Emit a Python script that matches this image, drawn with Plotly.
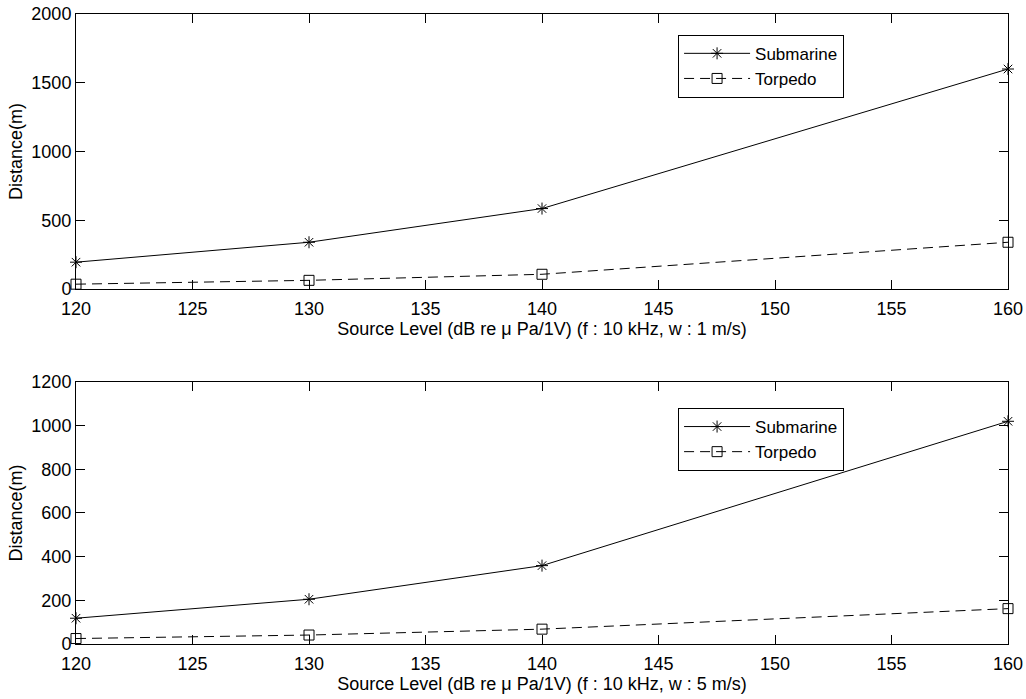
import plotly.graph_objects as go
from plotly.subplots import make_subplots

source_level = [120, 130, 140, 160]
sub_w1 = [195, 340, 585, 1600]
torp_w1 = [35, 63, 107, 340]
sub_w5 = [118, 205, 359, 1020]
torp_w5 = [25, 41, 68, 162]

x_ticks = [120, 125, 130, 135, 140, 145, 150, 155, 160]
y_ticks_top = [0, 500, 1000, 1500, 2000]
y_ticks_bot = [0, 200, 400, 600, 800, 1000, 1200]

xlabel_top = "Source Level (dB re \u03bc Pa/1V) (f : 10 kHz, w : 1 m/s)"
xlabel_bot = "Source Level (dB re \u03bc Pa/1V) (f : 10 kHz, w : 5 m/s)"
ylabel = "Distance(m)"

FONT = "Liberation Sans, Arial, sans-serif"

fig = make_subplots(rows=2, cols=1)

def add_pair(row, sub, torp, legend):
    fig.add_trace(go.Scatter(
        x=source_level, y=sub, name="Submarine", mode="lines+markers",
        line=dict(color="black", width=1),
        marker=dict(symbol="asterisk-open", size=10, color="black",
                    line=dict(color="black", width=1)),
        legend=legend, cliponaxis=False), row=row, col=1)
    fig.add_trace(go.Scatter(
        x=source_level, y=torp, name="Torpedo", mode="lines+markers",
        line=dict(color="black", width=1, dash="10px,6px"),
        marker=dict(symbol="square-open", size=10, color="black",
                    line=dict(color="black", width=1)),
        legend=legend, cliponaxis=False), row=row, col=1)

add_pair(1, sub_w1, torp_w1, "legend")
add_pair(2, sub_w5, torp_w5, "legend2")

axis_common = dict(
    showline=True, linecolor="black", linewidth=1, mirror="ticks",
    ticks="inside", ticklen=9, tickcolor="black", tickwidth=1,
    showgrid=False, zeroline=False, automargin=False,
    tickfont=dict(family=FONT, size=18, color="black"),
)
title_font = dict(family=FONT, size=18, color="black")

fig.update_xaxes(**axis_common, range=[120, 160], tickvals=x_ticks,
                 ticklabelstandoff=3)
fig.update_xaxes(title=dict(text=xlabel_top, standoff=1, font=title_font),
                 domain=[0, 1], row=1, col=1)
fig.update_xaxes(title=dict(text=xlabel_bot, standoff=1, font=title_font),
                 domain=[0, 1], row=2, col=1)
fig.update_yaxes(**axis_common)
fig.update_yaxes(range=[0, 2000], tickvals=y_ticks_top, domain=[0.5635, 1.0],
                 title=dict(text=ylabel, standoff=4, font=title_font),
                 row=1, col=1)
fig.update_yaxes(range=[0, 1200], tickvals=y_ticks_bot, domain=[0.0, 0.4159],
                 title=dict(text=ylabel, standoff=4, font=title_font),
                 row=2, col=1)

legend_style = dict(
    bgcolor="white", bordercolor="black", borderwidth=1,
    font=dict(family=FONT, size=17, color="black"),
    itemwidth=66, xanchor="left", yanchor="top", tracegroupgap=0,
)
fig.update_layout(
    width=1026, height=699,
    margin=dict(l=76, r=18, t=14, b=55, autoexpand=False),
    paper_bgcolor="white", plot_bgcolor="white",
    legend=dict(**legend_style, x=0.646, y=0.967),
    legend2=dict(**legend_style, x=0.646, y=0.3746),
    showlegend=True,
)

fig.write_html("out.html")
